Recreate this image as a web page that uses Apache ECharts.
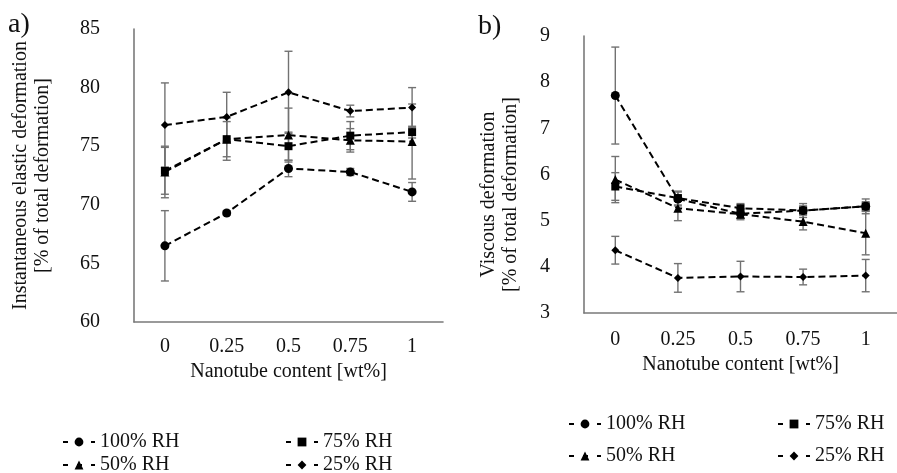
<!DOCTYPE html>
<html>
<head>
<meta charset="utf-8">
<script src="https://cdn.jsdelivr.net/npm/echarts@6/dist/echarts.min.js"></script>
<style>
  html, body { margin: 0; padding: 0; background: #fff; }
  #chart { width: 897px; height: 473px; }
</style>
</head>
<body>
<div id="chart"></div>
<script>
// Nanotube content categories (wt%)
const contents = ['0', '0.25', '0.5', '0.75', '1'];
const rhNames = ['100% RH', '75% RH', '50% RH', '25% RH'];

// a) Instantaneous elastic deformation [% of total deformation]
const elastic100 = [66.5, 69.3, 73.1, 72.8, 71.1];
const elastic100Err = [3.0, 0.2, 0.7, 0.3, 0.8];
const elastic75 = [72.9, 75.6, 75.0, 75.9, 76.2];
const elastic75Err = [2.0, 1.8, 1.2, 1.2, 0.5];
const elastic50 = [72.8, 75.6, 75.95, 75.5, 75.4];
const elastic50Err = [2.2, 1.5, 2.3, 1.0, 3.2];
const elastic25 = [76.8, 77.5, 79.6, 78.0, 78.3];
const elastic25Err = [3.6, 2.1, 3.5, 0.5, 1.7];

// b) Viscous deformation [% of total deformation]
const viscous100 = [7.71, 5.47, 5.15, 5.22, 5.31];
const viscous100Err = [1.05, 0.15, 0.1, 0.1, 0.1];
const viscous75 = [5.74, 5.49, 5.27, 5.22, 5.31];
const viscous75Err = [0.3, 0.15, 0.1, 0.15, 0.16];
const viscous50 = [5.89, 5.27, 5.14, 4.98, 4.73];
const viscous50Err = [0.5, 0.27, 0.12, 0.18, 0.47];
const viscous25 = [4.36, 3.76, 3.79, 3.78, 3.81];
const viscous25Err = [0.3, 0.31, 0.33, 0.17, 0.35];

const symbols = ['circle', 'rect', 'triangle', 'diamond'];
const symbolSizes = [9, 8, 9, 8];
const FONT = '"Liberation Serif", "Times New Roman", serif';

function errorBars(params, api) {
  const x = api.value(0);
  const lo = api.coord([x, api.value(1)]);
  const hi = api.coord([x, api.value(2)]);
  const c = 4;
  const style = { stroke: '#727272', lineWidth: 1.4 };
  return {
    type: 'group',
    children: [
      { type: 'line', shape: { x1: lo[0], y1: lo[1], x2: hi[0], y2: hi[1] }, style },
      { type: 'line', shape: { x1: lo[0] - c, y1: lo[1], x2: lo[0] + c, y2: lo[1] }, style },
      { type: 'line', shape: { x1: hi[0] - c, y1: hi[1], x2: hi[0] + c, y2: hi[1] }, style }
    ]
  };
}

function buildPanel(axisIndex, values, errs) {
  const out = [];
  values.forEach((vals, k) => {
    out.push({
      type: 'custom',
      xAxisIndex: axisIndex,
      yAxisIndex: axisIndex,
      renderItem: errorBars,
      silent: true,
      z: 1,
      encode: { x: 0, y: [1, 2] },
      data: vals.map((v, i) => [i, v - errs[k][i], v + errs[k][i]])
    });
  });
  values.forEach((vals, k) => {
    out.push({
      type: 'line',
      name: rhNames[k],
      xAxisIndex: axisIndex,
      yAxisIndex: axisIndex,
      data: vals,
      symbol: symbols[k],
      symbolSize: symbolSizes[k],
      showSymbol: true,
      z: 3,
      itemStyle: { color: '#000' },
      lineStyle: { color: '#000', width: 2, type: [7, 4] },
      emphasis: { disabled: true }
    });
  });
  return out;
}

const axisLine = { show: true, lineStyle: { color: '#7a7a7a', width: 1.6 } };

function xAxis(gridIndex, margin, nameGap) {
  return {
    type: 'category',
    gridIndex,
    data: contents,
    boundaryGap: true,
    axisLine,
    axisTick: { show: false },
    axisLabel: { margin, fontFamily: FONT, fontSize: 20, color: '#111' },
    name: 'Nanotube content [wt%]',
    nameLocation: 'middle',
    nameGap,
    nameTextStyle: { fontFamily: FONT, fontSize: 20, color: '#111', verticalAlign: 'top' }
  };
}

function yAxis(gridIndex, min, max, interval, name, nameGap, padding) {
  return {
    type: 'value',
    gridIndex,
    min, max, interval,
    axisLine,
    axisTick: { show: false },
    splitLine: { show: false },
    axisLabel: { margin: 34, fontFamily: FONT, fontSize: 20, color: '#111' },
    name,
    nameLocation: 'middle',
    nameRotate: 90,
    nameGap,
    nameTextStyle: { fontFamily: FONT, fontSize: 20, lineHeight: 22, color: '#111', align: 'center', padding }
  };
}

function legend(names, left, top, gap) {
  return {
    data: names.map(n => ({ name: n })),
    orient: 'vertical',
    left, top,
    height: 80,
    padding: 0,
    itemGap: gap,
    itemWidth: 32,
    itemHeight: 11,
    selectedMode: false,
    lineStyle: { type: [5, 9], width: 2 },
    textStyle: { fontFamily: FONT, fontSize: 20, color: '#111' }
  };
}

const chart = echarts.init(document.getElementById('chart'), null, { renderer: 'canvas' });

chart.setOption({
  backgroundColor: '#fff',
  animation: false,
  title: [
    { text: 'a)', left: 3, top: 6, textStyle: { fontFamily: FONT, fontSize: 28, fontWeight: 'normal', color: '#111' } },
    { text: 'b)', left: 473, top: 8, textStyle: { fontFamily: FONT, fontSize: 28, fontWeight: 'normal', color: '#111' } }
  ],
  grid: [
    { left: 134, top: 29, width: 309, height: 293 },
    { left: 584, top: 36, width: 326, height: 277 }
  ],
  xAxis: [xAxis(0, 15, 38), xAxis(1, 17, 36)],
  yAxis: [
    yAxis(0, 60, 85, 5, 'Instantaneous elastic deformation\n[% of total deformation]', 80, 0),
    yAxis(1, 3, 9, 1, 'Viscous deformation\n[% of total deformation]', 62, [0, 40, 0, 0])
  ],
  legend: [
    legend([rhNames[0], rhNames[2]], 62, 432, 3),
    legend([rhNames[1], rhNames[3]], 285, 432, 3),
    legend([rhNames[0], rhNames[2]], 568, 414, 12),
    legend([rhNames[1], rhNames[3]], 777, 414, 12)
  ],
  series: [
    ...buildPanel(0, [elastic100, elastic75, elastic50, elastic25],
                     [elastic100Err, elastic75Err, elastic50Err, elastic25Err]),
    ...buildPanel(1, [viscous100, viscous75, viscous50, viscous25],
                     [viscous100Err, viscous75Err, viscous50Err, viscous25Err])
  ]
});
</script>
</body>
</html>
